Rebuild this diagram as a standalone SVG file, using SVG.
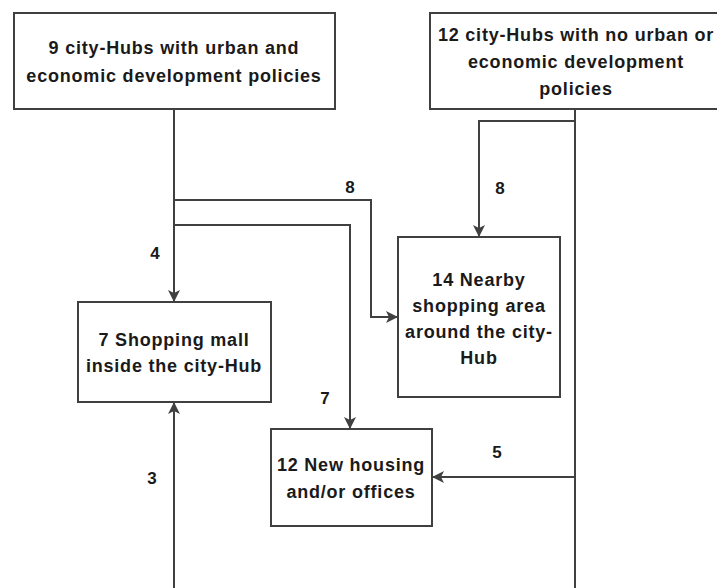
<svg xmlns="http://www.w3.org/2000/svg" width="717" height="588" viewBox="0 0 717 588">
<style>
.box{fill:#fff;stroke:#404040;stroke-width:2}
.t{font-family:"Liberation Sans",Arial,sans-serif;font-weight:bold;font-size:18px;letter-spacing:0.8px;fill:#1a1a1a;text-anchor:middle}
.lbl{font-family:"Liberation Sans",Arial,sans-serif;font-weight:bold;font-size:17px;fill:#1a1a1a;text-anchor:middle}
.c{fill:none;stroke:#404040;stroke-width:2}
</style>
<defs>
<marker id="ah" markerWidth="12" markerHeight="12" refX="11" refY="6" orient="auto" markerUnits="userSpaceOnUse">
<path d="M0,0 L12,6 L0,12 L3,6 z" fill="#404040"/>
</marker>
</defs>
<rect width="717" height="588" fill="#fff"/>
<g id="connectors">
<path class="c" d="M174,109 V301" marker-end="url(#ah)"/>
<path class="c" d="M174,200 H371 V317 H397" marker-end="url(#ah)"/>
<path class="c" d="M174,225 H350 V428" marker-end="url(#ah)"/>
<path class="c" d="M575,109 V588"/>
<path class="c" d="M575,121 H479 V236" marker-end="url(#ah)"/>
<path class="c" d="M575,477 H433" marker-end="url(#ah)"/>
<path class="c" d="M174,588 V403" marker-end="url(#ah)"/>
<text class="lbl" x="350" y="193">8</text>
<text class="lbl" x="500" y="194">8</text>
<text class="lbl" x="155" y="259">4</text>
<text class="lbl" x="325" y="404">7</text>
<text class="lbl" x="497" y="458">5</text>
<text class="lbl" x="152" y="484">3</text>
</g>
<g id="n1">
<rect class="box" x="14" y="13" width="321" height="96"/>
<text class="t" x="174" y="54">9 city-Hubs with urban and</text>
<text class="t" x="174" y="82">economic development policies</text>
</g>
<g id="n2">
<rect class="box" x="430" y="13" width="300" height="96"/>
<text class="t" x="576" y="41">12 city-Hubs with no urban or</text>
<text class="t" x="576" y="68">economic development</text>
<text class="t" x="576" y="95">policies</text>
</g>
<g id="n3">
<rect class="box" x="398" y="237" width="162" height="160"/>
<text class="t" x="479" y="286">14 Nearby</text>
<text class="t" x="479" y="312">shopping area</text>
<text class="t" x="479" y="338">around the city-</text>
<text class="t" x="479" y="364">Hub</text>
</g>
<g id="n4">
<rect class="box" x="78" y="302" width="193" height="100"/>
<text class="t" x="174" y="346">7 Shopping mall</text>
<text class="t" x="174" y="372">inside the city-Hub</text>
</g>
<g id="n5">
<rect class="box" x="271" y="429" width="161" height="97"/>
<text class="t" x="351" y="471">12 New housing</text>
<text class="t" x="351" y="498">and/or offices</text>
</g>
</svg>
